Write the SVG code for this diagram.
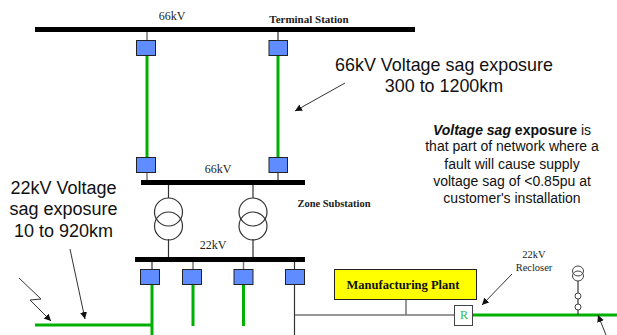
<svg xmlns="http://www.w3.org/2000/svg" width="617" height="335" viewBox="0 0 617 335">
<style>
.bus{fill:#000}
.sw{fill:#5f8cff;stroke:#222;stroke-width:1}
.g{stroke:#00b000;stroke-width:3;fill:none}
.w{stroke:#333;stroke-width:1.2;fill:none}
.gw{stroke:#777;stroke-width:1.5;fill:none}
.tx{fill:none;stroke:#333;stroke-width:1.2}
.a{stroke:#333;stroke-width:1;fill:none;marker-end:url(#ah)}
.s{font-family:"Liberation Sans",Arial,sans-serif;fill:#111;text-anchor:middle}
.t{font-family:"Liberation Serif","Times New Roman",serif;fill:#222;text-anchor:middle}
</style>
<defs><marker id="ah" markerWidth="8" markerHeight="8" refX="7" refY="3.5" orient="auto" markerUnits="userSpaceOnUse"><path d="M0 0L7 3.500L0 7z" fill="#111"/></marker></defs>
<rect width="617" height="335" fill="#fff"/>
<g id="connectors">
<path class="gw" d="M147 32V41"/><path class="w" d="M278 32V41"/>
<path class="g" d="M147 55V158M278 55V158"/>
<path class="gw" d="M147 172V183"/><path class="w" d="M278 172V183"/>
<path class="w" d="M168.500 183V198M168.500 239V259M253 183V198M253 239V259"/>
<path class="w" d="M152 260V270"/><path class="gw" d="M193 260V270M243.500 260V270"/><path class="w" d="M294.500 260V270"/>
<path class="g" d="M152 284V335M193 284V326M243.500 284V326M35 325H152"/>
<path class="w" d="M294.500 284V335"/>
<path class="gw" d="M295 315H454M406 300V315"/>
<path class="g" d="M472 315H617"/>
<path class="w" d="M578 281V315"/>
<path class="a" d="M70 249L85 319"/>
<path class="a" d="M19 278L41 299L30 300L51 321"/>
<path class="a" d="M345 83L295 111"/>
<path class="a" d="M512 274L482 305"/>
<path class="a" d="M606 335L598 315"/>
</g>
<g id="bus-terminal"><rect class="bus" x="35" y="27" width="380" height="5"/><text class="t" x="172" y="20" font-size="12">66kV</text><text class="t" x="309" y="23" font-size="11" font-weight="bold">Terminal Station</text></g>
<g id="bus-zone-66"><rect class="bus" x="141" y="180" width="164" height="5"/><text class="t" x="218" y="173" font-size="12">66kV</text><text class="t" x="334" y="207" font-size="10.500" font-weight="bold">Zone Substation</text></g>
<g id="bus-zone-22"><rect class="bus" x="135" y="257" width="170" height="5"/><text class="t" x="213" y="249" font-size="12">22kV</text></g>
<g id="sw1"><rect class="sw" x="136.500" y="40.500" width="19" height="15"/></g>
<g id="sw2"><rect class="sw" x="269" y="40.500" width="18.500" height="15"/></g>
<g id="sw3"><rect class="sw" x="136.500" y="157.500" width="19" height="15"/></g>
<g id="sw4"><rect class="sw" x="269" y="157.500" width="18.500" height="15"/></g>
<g id="sw5"><rect class="sw" x="140.500" y="269.500" width="19" height="15"/></g>
<g id="sw6"><rect class="sw" x="182.500" y="269.500" width="19" height="15"/></g>
<g id="sw7"><rect class="sw" x="234" y="269.500" width="19" height="15"/></g>
<g id="sw8"><rect class="sw" x="285.500" y="269.500" width="19" height="15"/></g>
<g id="tx1"><circle class="tx" cx="168.500" cy="212" r="14"/><circle class="tx" cx="168.500" cy="226" r="14"/></g>
<g id="tx2"><circle class="tx" cx="253" cy="212" r="14"/><circle class="tx" cx="253" cy="226" r="14"/></g>
<g id="plant"><rect x="334.500" y="269.500" width="142" height="30" fill="#ff0" stroke="#222" stroke-width="1"/><text class="t" x="403" y="289" font-size="12.500" font-weight="bold" style="fill:#111">Manufacturing Plant</text></g>
<g id="recloser"><rect x="454.500" y="305.500" width="18" height="20" fill="#fff" stroke="#444"/><text class="t" x="464" y="319" font-size="12" style="fill:#33bb44">R</text><text class="t" x="534" y="258" font-size="10.500">22kV</text><text class="t" x="534" y="271" font-size="10.500">Recloser</text></g>
<g id="pole-tx"><ellipse cx="578" cy="271" rx="5.500" ry="5" fill="none" stroke="#444"/><ellipse cx="578" cy="276" rx="5.500" ry="5" fill="none" stroke="#444"/><circle cx="578" cy="296" r="3" fill="#fff" stroke="#444"/><circle cx="578" cy="307" r="3" fill="#fff" stroke="#444"/></g>
<g id="labels">
<text class="s" x="444" y="71" font-size="17.900">66kV Voltage sag exposure</text>
<text class="s" x="444" y="92" font-size="17.900">300 to 1200km</text>
<text class="s" x="63.500" y="194" font-size="18">22kV Voltage</text>
<text class="s" x="63.500" y="215" font-size="18">sag exposure</text>
<text class="s" x="63.500" y="237" font-size="18">10 to 920km</text>
<text class="s" x="512" y="135" font-size="14"><tspan font-weight="bold" font-style="italic">Voltage sag</tspan> <tspan font-weight="bold">exposure</tspan> is</text>
<text class="s" x="512" y="151" font-size="14">that part of network where a</text>
<text class="s" x="512" y="169" font-size="14">fault will cause supply</text>
<text class="s" x="512" y="186" font-size="14">voltage sag of &lt;0.85pu at</text>
<text class="s" x="512" y="203" font-size="14">customer's installation</text>
</g>
</svg>
